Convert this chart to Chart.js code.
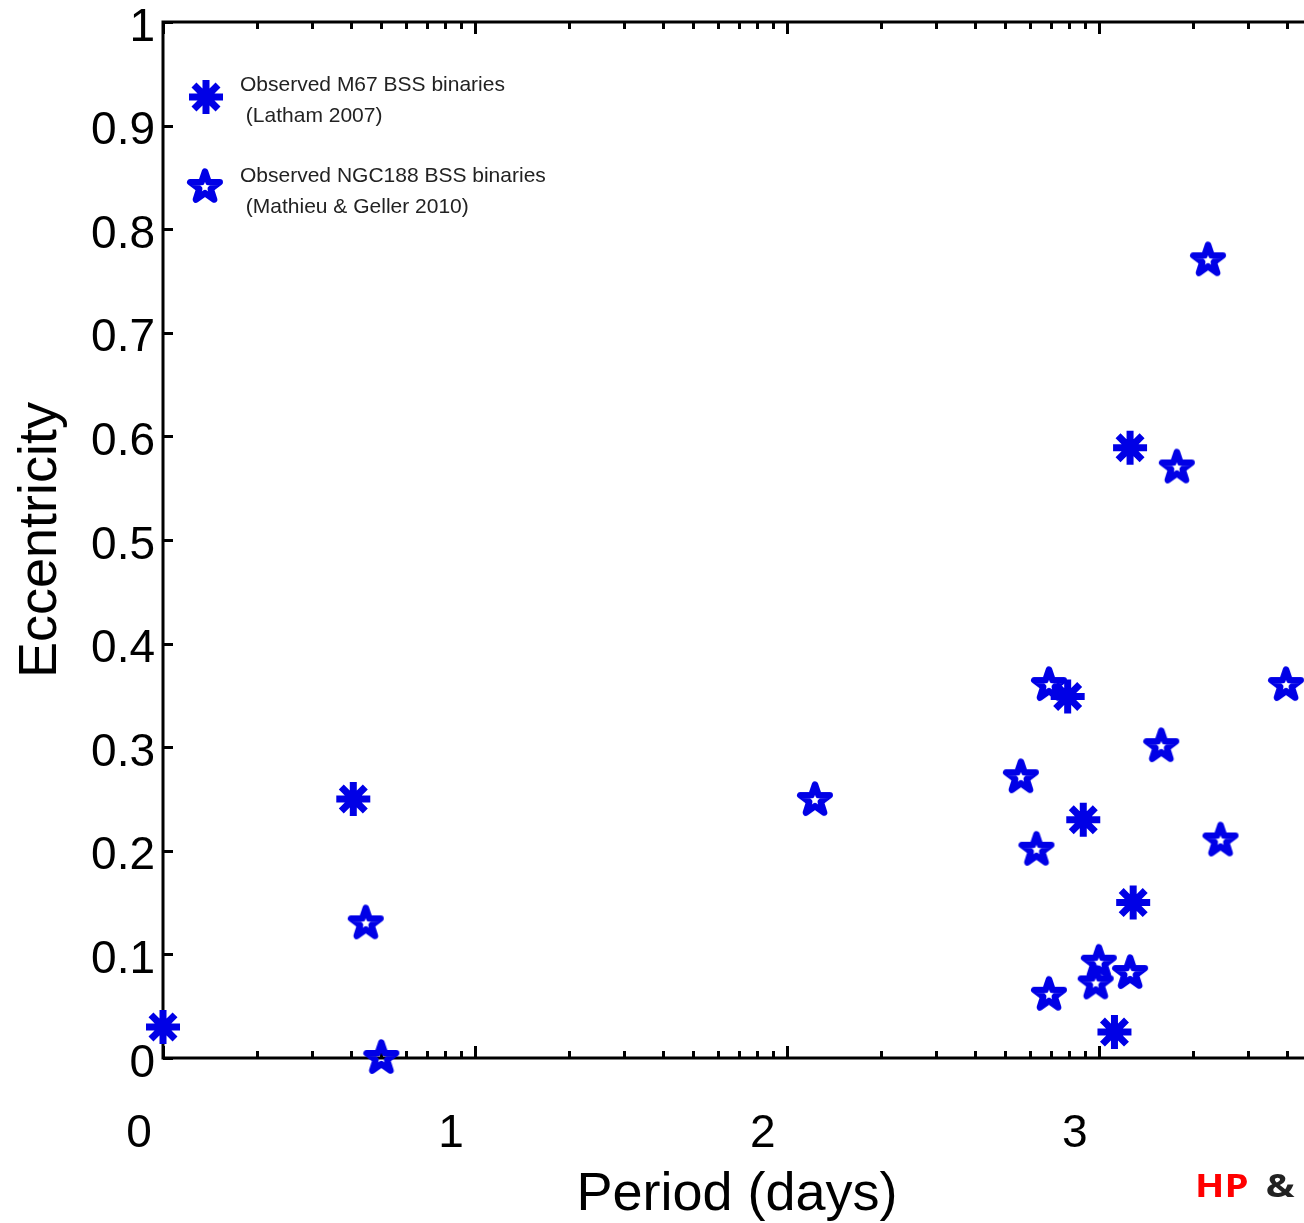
<!DOCTYPE html>
<html>
<head>
<meta charset="utf-8">
<script src="https://cdn.jsdelivr.net/npm/chart.js@4/dist/chart.umd.min.js"></script>
<style>
  html, body { margin: 0; padding: 0; background: #fff; overflow: hidden; width: 1304px; height: 1223px; }
  #wrap { position: relative; width: 1304px; height: 1223px; overflow: hidden; }
  #credit { position: absolute; left: 1195px; top: 1169px; font: bold 32px/32px "Open Sans", "DejaVu Sans", sans-serif;
            white-space: nowrap; transform: scaleX(1.2); transform-origin: left top; }
  #credit .hp { color: #ff0000; }
  #credit .amp { color: #222; margin-left: 6px; }
</style>
</head>
<body>
<div id="wrap">
  <canvas id="chart" width="1320" height="1223"></canvas>
  <div id="credit"><span class="hp">HP</span> <span class="amp">&amp;</span></div>
</div>
<script>
// Observed M67 BSS binaries (Latham 2007)
const m67Period = [0.00, 0.61, 2.90, 2.95, 3.10, 3.11, 3.05];
const m67Ecc = [0.030, 0.250, 0.349, 0.230, 0.589, 0.150, 0.025];

// Observed NGC188 BSS binaries (Mathieu & Geller 2010)
const ngcPeriod = [0.70, 0.65, 2.09, 2.75, 2.80, 2.84, 2.84, 3.00, 2.99, 3.10, 3.20, 3.25, 3.35, 3.39, 3.60];
const ngcEcc = [0.000, 0.130, 0.249, 0.271, 0.201, 0.360, 0.061, 0.092, 0.072, 0.082, 0.301, 0.570, 0.770, 0.210, 0.360];

// axis ticks
const xTicks = [0, 1, 2, 3];
const xTickLabels = ['0', '1', '2', '3'];
const yTicks = [0, 0.1, 0.2, 0.3, 0.4, 0.5, 0.6, 0.7, 0.8, 0.9, 1];
const yTickLabels = ['0', '0.1', '0.2', '0.3', '0.4', '0.5', '0.6', '0.7', '0.8', '0.9', '1'];

const legendLines = [
    ['Observed M67 BSS binaries', ' (Latham 2007)'],
    ['Observed NGC188 BSS binaries', ' (Mathieu & Geller 2010)']
];

const blue = '#0000e6';
const fontFamily = '"Liberation Sans", Arial, Helvetica, sans-serif';

// pentagram marker (unfilled, thick edge)
function makePentagram() {
    const c = document.createElement('canvas');
    c.width = 44;
    c.height = 44;
    const g = c.getContext('2d');
    const R = 15.5, r = R * 0.39;
    g.beginPath();
    for (let i = 0; i < 10; i++) {
        const a = -Math.PI / 2 + i * Math.PI / 5;
        const rad = i % 2 === 0 ? R : r;
        const px = 22 + rad * Math.cos(a), py = 22 + rad * Math.sin(a);
        if (i === 0) g.moveTo(px, py); else g.lineTo(px, py);
    }
    g.closePath();
    g.lineWidth = 6.5;
    g.lineJoin = 'round';
    g.strokeStyle = blue;
    g.stroke();
    return c;
}
const pentagram = makePentagram();

function drawAsterisk(ctx, x, y, r) {
    ctx.save();
    ctx.strokeStyle = blue;
    ctx.lineWidth = 7;
    ctx.beginPath();
    for (let i = 0; i < 4; i++) {
        const a = i * Math.PI / 4;
        ctx.moveTo(x - r * Math.cos(a), y - r * Math.sin(a));
        ctx.lineTo(x + r * Math.cos(a), y + r * Math.sin(a));
    }
    ctx.stroke();
    ctx.restore();
}

// box with inward ticks, MATLAB style
const framePlugin = {
    id: 'frame',
    beforeDatasetsDraw(chart) {
        const ctx = chart.ctx;
        const a = chart.chartArea;
        const xs = chart.scales.x, ys = chart.scales.y;
        ctx.save();
        ctx.strokeStyle = '#000';
        ctx.lineWidth = 3;
        ctx.strokeRect(a.left, a.top, a.right - a.left, a.bottom - a.top);
        ctx.beginPath();
        // x major + minor (log decades)
        for (let d = 0; d < 4; d++) {
            for (let k = 1; k <= 9; k++) {
                const v = d + Math.log10(k);
                if (v > xs.max) continue;
                const px = Math.round(xs.getPixelForValue(v)) + 0.5;
                const len = k === 1 ? 12 : 7;
                ctx.moveTo(px, a.bottom);
                ctx.lineTo(px, a.bottom - len);
                ctx.moveTo(px, a.top);
                ctx.lineTo(px, a.top + len);
            }
        }
        yTicks.forEach(v => {
            const py = Math.round(ys.getPixelForValue(v)) + 0.5;
            ctx.moveTo(a.left, py);
            ctx.lineTo(a.left + 10, py);
        });
        ctx.stroke();
        ctx.restore();
    },
    afterDatasetsDraw(chart) {
        const ctx = chart.ctx;
        // legend
        drawAsterisk(ctx, 206, 97, 17);
        ctx.drawImage(pentagram, 205 - 22, 187 - 22);
        ctx.save();
        ctx.fillStyle = '#222';
        ctx.font = '21px ' + fontFamily;
        ctx.textBaseline = 'middle';
        ctx.textAlign = 'left';
        ctx.fillText(legendLines[0][0], 240, 85);
        ctx.fillText(legendLines[0][1], 240, 116);
        ctx.fillText(legendLines[1][0], 240, 176);
        ctx.fillText(legendLines[1][1], 240, 207);
        ctx.restore();
    }
};

const m67Data = m67Period.map((p, i) => ({ x: p, y: m67Ecc[i] }));
const ngcData = ngcPeriod.map((p, i) => ({ x: p, y: ngcEcc[i] }));

function noPad(scale) {
    scale.paddingTop = 0;
    scale.paddingBottom = 0;
    scale.paddingLeft = 0;
    scale.paddingRight = 0;
}

new Chart(document.getElementById('chart').getContext('2d'), {
    type: 'scatter',
    data: {
        datasets: [{
            label: legendLines[0].join(''),
            data: m67Data,
            pointStyle: 'star',
            pointRadius: 17,
            pointHoverRadius: 17,
            pointBorderWidth: 7,
            pointHoverBorderWidth: 7,
            borderColor: blue,
            backgroundColor: blue,
            clip: false
        }, {
            label: legendLines[1].join(''),
            data: ngcData,
            pointStyle: pentagram,
            pointRadius: 18,
            pointHoverRadius: 18,
            borderColor: blue,
            backgroundColor: blue,
            clip: false
        }]
    },
    options: {
        responsive: false,
        animation: false,
        events: [],
        layout: { autoPadding: false, padding: { top: 22, right: 9, left: 0, bottom: 0 } },
        plugins: {
            legend: { display: false },
            tooltip: { enabled: false }
        },
        scales: {
            x: {
                type: 'linear',
                min: 0,
                max: 3.68,
                grid: { display: false, drawTicks: false },
                border: { display: false },
                afterBuildTicks: scale => { scale.ticks = xTicks.map(v => ({ value: v })); },
                afterFit: scale => { scale.height = 165; noPad(scale); },
                ticks: {
                    autoSkip: false,
                    maxRotation: 0,
                    padding: 49,
                    labelOffset: -24,
                    color: '#000',
                    font: { family: fontFamily, size: 46 },
                    callback: (v, i) => xTickLabels[i]
                },
                title: {
                    display: true,
                    text: 'Period (days)',
                    color: '#000',
                    font: { family: fontFamily, size: 54, lineHeight: 1.05 },
                    padding: { top: 0, bottom: 0 }
                }
            },
            y: {
                type: 'linear',
                min: 0,
                max: 1,
                grid: { display: false, drawTicks: false },
                border: { display: false },
                afterBuildTicks: scale => { scale.ticks = yTicks.map(v => ({ value: v })); },
                afterFit: scale => { scale.width = 163; noPad(scale); },
                ticks: {
                    autoSkip: false,
                    padding: 8,
                    labelOffset: 6,
                    color: '#000',
                    font: { family: fontFamily, size: 46 },
                    callback: (v, i) => yTickLabels[i]
                },
                title: {
                    display: true,
                    text: 'Eccentricity',
                    color: '#000',
                    font: { family: fontFamily, size: 54 },
                    padding: { top: 9, bottom: 0 }
                }
            }
        }
    },
    plugins: [framePlugin]
});
</script>
</body>
</html>
